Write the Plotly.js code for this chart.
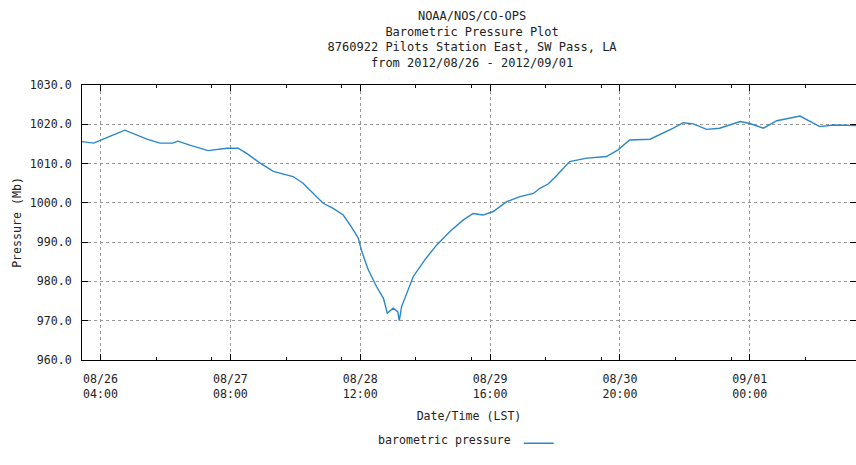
<!DOCTYPE html>
<html>
<head>
<meta charset="utf-8">
<script src="https://cdn.plot.ly/plotly-3.0.1.min.js"></script>
<style>html,body{margin:0;padding:0;background:#fff;}#chart{width:856px;height:465px;}</style>
</head>
<body>
<div id="chart"></div>
<script>
const times = [
  '2012-08-26 00:00','2012-08-26 02:30','2012-08-26 06:00','2012-08-26 09:15','2012-08-26 14:00',
  '2012-08-26 16:50','2012-08-26 19:35','2012-08-26 20:40','2012-08-26 23:15','2012-08-27 03:10',
  '2012-08-27 07:15','2012-08-27 09:40','2012-08-27 11:30','2012-08-27 14:25','2012-08-27 17:15',
  '2012-08-27 21:30','2012-08-27 23:40','2012-08-28 04:00','2012-08-28 06:10','2012-08-28 08:20',
  '2012-08-28 10:05','2012-08-28 11:35','2012-08-28 12:20','2012-08-28 13:45','2012-08-28 15:30',
  '2012-08-28 17:00','2012-08-28 17:50','2012-08-28 19:05','2012-08-28 20:05','2012-08-28 20:25',
  '2012-08-28 20:55','2012-08-28 22:00','2012-08-28 23:25','2012-08-29 01:55','2012-08-29 04:30',
  '2012-08-29 07:20','2012-08-29 10:10','2012-08-29 12:20','2012-08-29 14:30','2012-08-29 16:40',
  '2012-08-29 19:35','2012-08-29 22:25','2012-08-30 01:20','2012-08-30 02:45','2012-08-30 04:30',
  '2012-08-30 06:00','2012-08-30 09:10','2012-08-30 12:50','2012-08-30 17:05','2012-08-30 19:35',
  '2012-08-30 22:05','2012-08-31 02:30','2012-08-31 04:35','2012-08-31 07:30','2012-08-31 09:40',
  '2012-08-31 11:50','2012-08-31 14:40','2012-08-31 17:30','2012-08-31 21:55','2012-09-01 00:00',
  '2012-09-01 02:55','2012-09-01 05:50','2012-09-01 10:50','2012-09-01 12:55','2012-09-01 15:05',
  '2012-09-01 18:00','2012-09-01 23:00'
];
const pressure = [
  1015.6,1015.2,1016.9,1018.5,1016.2,
  1015.2,1015.2,1015.7,1014.7,1013.3,
  1013.9,1013.9,1012.6,1010.1,1008.0,
  1006.7,1005.0,999.9,998.6,996.9,
  993.9,991.0,987.6,982.9,978.7,
  975.7,971.9,973.2,972.3,970.0,
  973.6,977.0,981.2,985.5,989.3,
  992.7,995.6,997.3,996.9,997.8,
  1000.3,1001.6,1002.4,1003.7,1004.8,
  1006.5,1010.5,1011.4,1011.8,1013.5,
  1016.0,1016.2,1017.3,1019.0,1020.4,
  1020.1,1018.7,1019.0,1020.7,1020.2,
  1019.0,1020.9,1022.1,1020.7,1019.4,
  1019.8,1019.7
];

// Axis ticks
const xTickVals = ['2012-08-26 04:00','2012-08-27 08:00','2012-08-28 12:00','2012-08-29 16:00','2012-08-30 20:00','2012-09-01 00:00'];
const xTickText = ['08/26<br>04:00','08/27<br>08:00','08/28<br>12:00','08/29<br>16:00','08/30<br>20:00','09/01<br>00:00'];
const xMinorVals = ['2012-08-26 16:00','2012-08-27 04:00','2012-08-27 20:00','2012-08-28 08:00','2012-08-29 00:00',
  '2012-08-29 12:00','2012-08-30 04:00','2012-08-30 16:00','2012-08-31 08:00','2012-08-31 20:00','2012-09-01 12:00'];
const yTickVals = [960,970,980,990,1000,1010,1020,1030];
const titleLines = ['NOAA/NOS/CO-OPS','Barometric Pressure Plot','8760922 Pilots Station East, SW Pass, LA','from 2012/08/26 - 2012/09/01'];
const seriesName = 'barometric pressure';

const mono = 'DejaVu Sans Mono, monospace';
const txt = '#222';

const trace = {
  x: times, y: pressure, type: 'scatter', mode: 'lines', name: '',
  line: {color: '#2b87c8', width: 1.4}, showlegend: true
};

const layout = {
  width: 856, height: 465,
  margin: {l: 82, r: 0, t: 85, b: 105, pad: 0},
  paper_bgcolor: '#fff', plot_bgcolor: '#fff',
  font: {family: mono, size: 11.6, color: txt},
  title: {
    text: titleLines.join('<br>'),
    font: {family: mono, size: 12, color: txt},
    x: 0.504, xref: 'paper', xanchor: 'center',
    y: 0.957, yref: 'container', yanchor: 'top'
  },
  xaxis: {
    type: 'date',
    range: ['2012-08-26 00:00', '2012-09-01 22:54'],
    tickmode: 'array', tickvals: xTickVals, ticktext: xTickText,
    ticks: 'inside', ticklen: 6, tickcolor: '#000', tickwidth: 1,
    minor: {tickmode: 'array', tickvals: xMinorVals, ticks: 'inside', ticklen: 3, tickcolor: '#000', showgrid: false},
    showline: true, linecolor: '#000', linewidth: 1, mirror: 'allticks',
    showgrid: true, gridcolor: '#999', griddash: 'dot', gridwidth: 1,
    zeroline: false,
    ticklabelstandoff: 8,
    tickfont: {family: mono, size: 11.6, color: txt},
    title: {text: 'Date/Time (LST)', font: {family: mono, size: 11.6, color: txt}, standoff: 11}
  },
  yaxis: {
    range: [960, 1030],
    tickmode: 'array', tickvals: yTickVals,
    tickformat: '.1f',
    ticks: 'inside', ticklen: 6, tickcolor: '#000', tickwidth: 1,
    showline: true, linecolor: '#000', linewidth: 1, mirror: 'allticks',
    showgrid: true, gridcolor: '#999', griddash: 'dot', gridwidth: 1,
    zeroline: false,
    ticklabelstandoff: 7,
    tickfont: {family: mono, size: 11.6, color: txt},
    title: {text: 'Pressure (Mb)', font: {family: mono, size: 11.6, color: txt}, standoff: 5}
  },
  showlegend: true,
  legend: {
    orientation: 'h', x: 0.38, xanchor: 'left', y: -0.25, yanchor: 'top',
    bgcolor: 'rgba(0,0,0,0)', borderwidth: 0,
    font: {family: mono, size: 11.6, color: txt},
    title: {text: seriesName, side: 'left', font: {family: mono, size: 11.6, color: txt}}
  }
};

Plotly.newPlot('chart', [trace], layout, {displayModeBar: false, staticPlot: true});
</script>
</body>
</html>
